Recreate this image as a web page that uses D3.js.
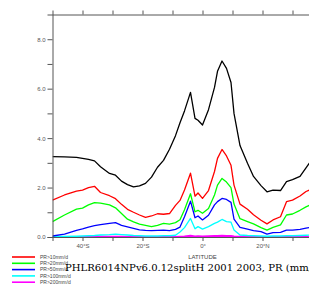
<!DOCTYPE html>
<html><head><meta charset="utf-8">
<script src="https://cdn.jsdelivr.net/npm/d3@7"></script>
<style>body{margin:0;background:#fff;overflow:hidden}svg{display:block}</style>
</head><body>
<svg id="c" width="309" height="288"></svg>
<script>
const lats = [-50,-46,-42,-40,-38,-36,-34,-31,-29,-27,-25,-23,-21,-19,-17,-15,-13,-11,-9,-7.5,-6,-4,-2.5,-1.5,0,2,4,5,6.5,8,9.5,10.5,12.5,15,17,19.5,21.5,23.5,26,28,30,32.5,34.5,36];
const prTotal = [3.25,3.24,3.22,3.18,3.14,3.08,2.84,2.57,2.50,2.26,2.12,2.03,2.07,2.17,2.42,2.82,3.10,3.55,4.10,4.62,5.10,5.85,4.80,4.72,4.53,5.15,6.05,6.70,7.12,6.82,6.25,5.00,3.70,2.98,2.45,2.08,1.83,1.90,1.88,2.24,2.32,2.45,2.80,3.05];
const pr10 = [1.49,1.70,1.86,1.90,2.00,2.05,1.80,1.67,1.55,1.32,1.12,1.00,0.89,0.79,0.85,0.94,0.92,0.95,1.28,1.48,1.90,2.58,1.65,1.78,1.56,1.88,2.65,3.18,3.54,3.28,2.90,2.10,1.33,1.12,0.90,0.68,0.53,0.69,0.82,1.43,1.49,1.66,1.84,1.92];
const pr20 = [0.62,0.89,1.13,1.17,1.30,1.39,1.37,1.30,1.18,0.95,0.72,0.61,0.52,0.47,0.42,0.47,0.55,0.52,0.58,0.70,1.10,1.75,1.02,1.08,0.96,1.15,1.70,2.10,2.37,2.22,2.00,1.33,0.74,0.62,0.53,0.38,0.28,0.39,0.49,0.89,0.93,1.08,1.22,1.30];
const pr50 = [0.04,0.12,0.27,0.33,0.40,0.46,0.50,0.55,0.58,0.47,0.41,0.35,0.29,0.27,0.26,0.27,0.28,0.26,0.31,0.40,0.82,1.45,0.78,0.85,0.69,0.88,1.30,1.43,1.56,1.52,1.40,0.72,0.39,0.32,0.26,0.22,0.12,0.18,0.19,0.28,0.28,0.31,0.36,0.39];
const pr100 = [0.01,0.02,0.03,0.04,0.05,0.06,0.08,0.10,0.12,0.10,0.08,0.06,0.05,0.04,0.04,0.04,0.05,0.05,0.07,0.20,0.38,0.75,0.33,0.42,0.32,0.42,0.55,0.60,0.71,0.62,0.60,0.28,0.08,0.06,0.05,0.04,0.03,0.04,0.04,0.05,0.05,0.06,0.07,0.08];
const pr200 = [0,0,0,0,0,0,0.01,0.01,0.01,0.01,0,0,0,0,0,0,0,0,0,0.01,0.02,0.05,0.02,0.03,0.02,0.03,0.04,0.04,0.05,0.04,0.04,0.02,0.01,0,0,0,0,0,0,0,0,0,0,0];
const seriesNames = ["total","PR>10mm/d","PR>20mm/d","PR>50mm/d","PR>100mm/d","PR>200mm/d"];
const seriesColors = ["#000000","#ff0000","#00ff00","#0000ff","#00ffff","#ff00ff"];
const yTicks = [0,2,4,6,8];
const yMinor = [1,3,5,7];
const xTicks = [-40,-20,0,20];
const xMinor = [-30,-10,10,30,40];
const xTickLabels = ["40°S","20°S","0°","20°N"];
const titleText = "PHLR6014NPv6.0.12splitH 2001 2003, PR (mm/d)";
const titleVisiblePart = "PHLR6014NPv6.0.12splitH 2001 2003, PR (mm";
const xTitle = "LATITUDE";

const svg = d3.select("#c");
const x = d3.scaleLinear().domain([-50,50]).range([52.5,352.5]);
const y = d3.scaleLinear().domain([0,9]).range([237,14.5]);
const axisCol = "#555";

svg.append("clipPath").attr("id","pc").append("rect")
  .attr("x",x(-50)).attr("y",y(9)-1).attr("width",x(50)-x(-50)).attr("height",y(0)-y(9)+2);

const allSeries = [prTotal,pr10,pr20,pr50,pr100,pr200];
const line = d3.line().x((d,i)=>x(lats[i])).y(d=>y(d));
const g = svg.append("g").attr("clip-path","url(#pc)");
allSeries.slice().reverse().forEach((s,k)=>{
  const idx = allSeries.length-1-k;
  g.append("path").datum(s).attr("d",line).attr("fill","none")
   .attr("stroke",seriesColors[idx]).attr("stroke-width", idx===5?2:1.3)
   .attr("stroke-linejoin","round");
});

const fmt = d3.format(".1f");
svg.append("g").attr("transform",`translate(${x(-50)},0)`)
  .call(d3.axisLeft(y).tickValues(yTicks).tickFormat(fmt).tickSize(5).tickPadding(2));
svg.append("g").attr("transform",`translate(${x(-50)},0)`)
  .call(d3.axisLeft(y).tickValues(yMinor).tickFormat("").tickSize(5)).select(".domain").remove();

svg.append("g").attr("transform",`translate(0,${y(0)})`)
  .call(d3.axisBottom(x).tickValues(xTicks).tickFormat((d,i)=>xTickLabels[i]).tickSize(4).tickPadding(3));
svg.append("g").attr("transform",`translate(0,${y(0)})`)
  .call(d3.axisBottom(x).tickValues(xMinor).tickFormat("").tickSize(4)).select(".domain").remove();
svg.append("g").attr("transform",`translate(0,${y(9)})`)
  .call(d3.axisTop(x).tickValues(xTicks.concat(xMinor)).tickFormat("").tickSize(4));

svg.selectAll(".domain").attr("stroke",axisCol).attr("stroke-width",1);
svg.selectAll(".tick line").attr("stroke",axisCol);
svg.selectAll(".tick text").attr("font-family","Liberation Sans, Arial, sans-serif").attr("font-size",6).attr("fill","#555");

svg.append("text").attr("x",x(0)).attr("y",259).attr("text-anchor","middle")
  .attr("font-family","Liberation Sans, Arial, sans-serif").attr("font-size",6).attr("fill","#444").text(xTitle);

const legNames = seriesNames.slice(1), legCols = seriesColors.slice(1);
legNames.forEach((n,i)=>{
  const yy = 257 + i*6.3;
  svg.append("line").attr("x1",12).attr("x2",35).attr("y1",yy).attr("y2",yy)
    .attr("stroke",legCols[i]).attr("stroke-width",1.6);
  svg.append("text").attr("x",40).attr("y",yy+1.8).attr("font-family","Liberation Sans, Arial, sans-serif")
    .attr("font-size",5).attr("fill","#444").text(n);
});

// title: size so that the visible part spans from x=65 to the right edge
const tFont = "DejaVu Serif, Liberation Serif, serif";
const probe = svg.append("text").attr("font-family",tFont).attr("font-size",10).text(titleVisiblePart);
const w10 = probe.node().getComputedTextLength();
probe.remove();
const tSize = Math.max(8, Math.min(13, 10 * 244 / w10));
svg.append("text").attr("x",65).attr("y",270.5).attr("font-family",tFont)
  .attr("font-size",tSize).attr("fill","#000").text(titleText);
</script>
</body></html>
